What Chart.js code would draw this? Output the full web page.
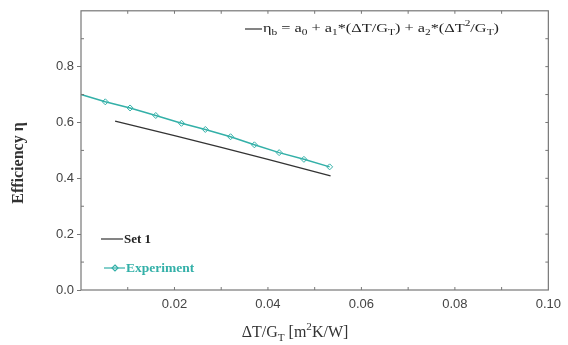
<!DOCTYPE html>
<html>
<head>
<meta charset="utf-8">
<script src="https://cdn.jsdelivr.net/npm/chart.js@4"></script>
<style>
  body { margin: 0; background: #fff; }
  #wrap { width: 568px; height: 345px; }
</style>
</head>
<body>
<div id="wrap"><canvas id="effChart" width="568" height="345"></canvas></div>
<script>
// data
const expX = [0.0, 0.0052, 0.0105, 0.016, 0.0215, 0.0266, 0.032, 0.0371, 0.0424, 0.0477, 0.0532];
const expY = [0.700, 0.674, 0.652, 0.625, 0.597, 0.575, 0.549, 0.520, 0.492, 0.468, 0.441];
const setX = [0.0073, 0.02, 0.03, 0.04, 0.0534];
const setY = [0.605, 0.553, 0.511, 0.468, 0.409];
const xTicks = [0.02, 0.04, 0.06, 0.08, 0.10];
const yTicks = [0.0, 0.2, 0.4, 0.6, 0.8];

const teal = '#33b0a8';
const dark = '#333333';
const serif = '"Liberation Serif", "Times New Roman", serif';

// draw text with sub/superscript parts: [text, 'sub'|'sup'|undefined]
function drawRich(ctx, parts, x, y, size, weight) {
    let cx = x;
    parts.forEach(p => {
        const small = p[1] ? size * 0.7 : size;
        ctx.font = weight + ' ' + small + 'px ' + serif;
        let dy = 0;
        if (p[1] === 'sub') dy = size * 0.3;
        if (p[1] === 'sup') dy = -size * 0.4;
        ctx.fillText(p[0], cx, y + dy);
        cx += ctx.measureText(p[0]).width;
    });
    return cx;
}

function richWidth(ctx, parts, size, weight) {
    let w = 0;
    parts.forEach(p => {
        const small = p[1] ? size * 0.7 : size;
        ctx.font = weight + ' ' + small + 'px ' + serif;
        w += ctx.measureText(p[0]).width;
    });
    return w;
}

const decorations = {
    id: 'decorations',
    afterDraw(chart) {
        const ctx = chart.ctx;
        const a = chart.chartArea;
        const xs = chart.scales.x;
        const ys = chart.scales.y;
        ctx.save();

        // frame
        ctx.strokeStyle = '#777';
        ctx.lineWidth = 1.2;
        ctx.strokeRect(a.left, a.top, a.right - a.left, a.bottom - a.top);

        // minor / inner ticks
        ctx.lineWidth = 1;
        for (let i = 1; i < 10; i++) {
            const px = xs.getPixelForValue(i * 0.01);
            ctx.beginPath();
            ctx.moveTo(px, a.bottom); ctx.lineTo(px, a.bottom - 3);
            ctx.moveTo(px, a.top); ctx.lineTo(px, a.top + 3);
            ctx.stroke();
        }
        for (let i = 1; i < 10; i++) {
            const py = ys.getPixelForValue(i * 0.1);
            ctx.beginPath();
            ctx.moveTo(a.right, py); ctx.lineTo(a.right - 3, py);
            ctx.stroke();
            if (i % 2 === 1) {
                ctx.beginPath();
                ctx.moveTo(a.left, py); ctx.lineTo(a.left + 3, py);
                ctx.stroke();
            }
        }

        ctx.fillStyle = '#222';
        ctx.textBaseline = 'middle';
        ctx.textAlign = 'left';

        // equation legend (top right)
        ctx.strokeStyle = dark;
        ctx.lineWidth = 1.2;
        ctx.beginPath();
        ctx.moveTo(245, 29); ctx.lineTo(262, 29);
        ctx.stroke();
        const eq = [['η'], ['b', 'sub'], [' = a'], ['0', 'sub'], [' + a'], ['1', 'sub'],
            ['*(ΔT/G'], ['T', 'sub'], [') + a'], ['2', 'sub'], ['*(ΔT'], ['2', 'sup'],
            ['/G'], ['T', 'sub'], [')']];
        const eqW = richWidth(ctx, eq, 12, 'normal');
        ctx.save();
        ctx.translate(263, 29);
        ctx.scale(236 / eqW, 1.05);
        drawRich(ctx, eq, 0, 0, 12, 'normal');
        ctx.restore();

        // Set 1 legend
        ctx.beginPath();
        ctx.moveTo(101, 239); ctx.lineTo(123, 239);
        ctx.stroke();
        ctx.font = 'bold 13px ' + serif;
        ctx.fillText('Set 1', 124, 240);

        // Experiment legend
        ctx.strokeStyle = teal;
        ctx.beginPath();
        ctx.moveTo(104, 268); ctx.lineTo(125, 268);
        ctx.stroke();
        ctx.beginPath();
        ctx.moveTo(115, 265); ctx.lineTo(118, 268); ctx.lineTo(115, 271); ctx.lineTo(112, 268);
        ctx.closePath();
        ctx.stroke();
        ctx.fillStyle = teal;
        ctx.font = 'bold 13.5px ' + serif;
        ctx.fillText('Experiment', 126, 269);

        // x axis title
        ctx.fillStyle = '#333';
        const xt = [['ΔT/G'], ['T', 'sub'], [' [m'], ['2', 'sup'], ['K/W]']];
        const w = richWidth(ctx, xt, 16, 'normal');
        drawRich(ctx, xt, 295 - w / 2, 333, 16, 'normal');

        // y axis title (rotated)
        ctx.save();
        ctx.translate(19, 163);
        ctx.rotate(-Math.PI / 2);
        const yt = [['Efficiency '], ['η']];
        const wy = richWidth(ctx, yt, 16, 'bold');
        drawRich(ctx, yt, -wy / 2, 0, 16, 'bold');
        ctx.restore();

        ctx.restore();
    }
};

const ctx = document.getElementById('effChart').getContext('2d');
new Chart(ctx, {
    type: 'scatter',
    data: {
        datasets: [
            {
                label: 'Set 1',
                data: setX.map((x, i) => ({ x: x, y: setY[i] })),
                showLine: true,
                borderColor: dark,
                borderWidth: 1.3,
                pointRadius: 0,
                tension: 0
            },
            {
                label: 'Experiment',
                data: expX.map((x, i) => ({ x: x, y: expY[i] })),
                showLine: true,
                borderColor: teal,
                borderWidth: 1.5,
                pointStyle: 'rectRot',
                pointRadius: expX.map(x => (x === 0 ? 0 : 3)),
                pointBorderWidth: 1,
                pointBackgroundColor: 'rgba(255,255,255,0)',
                pointBorderColor: teal
            }
        ]
    },
    options: {
        responsive: false,
        animation: false,
        clip: false,
        layout: { padding: { left: 0, right: 15, top: 9, bottom: 0 } },
        plugins: { legend: { display: false }, tooltip: { enabled: false } },
        scales: {
            x: {
                type: 'linear',
                min: 0, max: 0.1,
                afterFit: s => { s.height = 55; },
                afterBuildTicks: s => { s.ticks = xTicks.map(v => ({ value: v })); },
                grid: { drawOnChartArea: false, drawTicks: false },
                border: { display: false },
                ticks: {
                    padding: 7,
                    color: '#444',
                    font: { family: '"Liberation Sans", Arial, sans-serif', size: 13 },
                    callback: v => v.toFixed(2)
                }
            },
            y: {
                min: 0, max: 1.0,
                afterFit: s => { s.width = 81; },
                afterBuildTicks: s => { s.ticks = yTicks.map(v => ({ value: v })); },
                grid: { drawOnChartArea: false, drawTicks: true, tickLength: 4, color: '#777' },
                border: { display: false },
                ticks: {
                    padding: 3,
                    color: '#444',
                    font: { family: '"Liberation Sans", Arial, sans-serif', size: 13 },
                    callback: v => v.toFixed(1)
                }
            }
        }
    },
    plugins: [decorations]
});
</script>
</body>
</html>
